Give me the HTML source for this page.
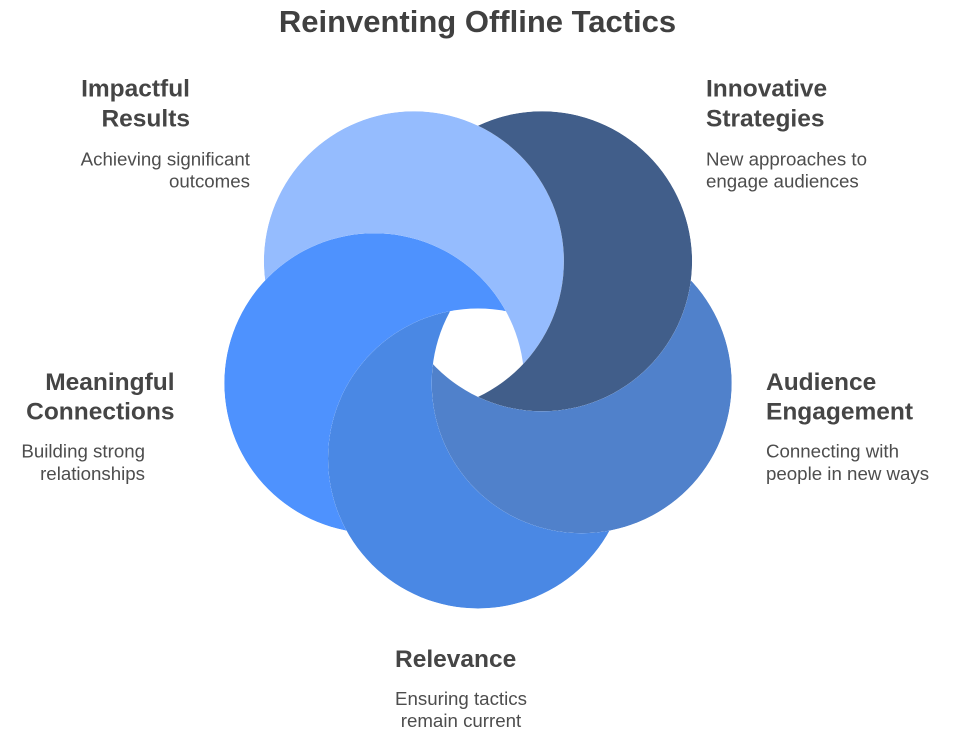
<!DOCTYPE html>
<html>
<head>
<meta charset="utf-8">
<style>
  html, body { margin: 0; padding: 0; background: #ffffff; }
  body { width: 955px; height: 741px; overflow: hidden; }
  svg { display: block; }
  .title { font-family: "Liberation Sans", Arial, sans-serif; font-weight: bold; font-size: 31px; fill: #404040; }
  .h { font-family: "Liberation Sans", Arial, sans-serif; font-weight: bold; font-size: 24.5px; fill: #454545; }
  .d { font-family: "Liberation Sans", Arial, sans-serif; font-size: 18.7px; fill: #4d4d4d; }
</style>
</head>
<body>
<svg width="955" height="741" viewBox="0 0 955 741" xmlns="http://www.w3.org/2000/svg">
  <defs>
    <!-- A: light (413.9,261.3)  B: navy (542.1,261.3)  C: right (581.7,383.2)  D: bottom (478,458.5)  E: left (374.3,383.2) -->
    <mask id="mA" maskUnits="userSpaceOnUse" x="0" y="0" width="955" height="741">
      <circle cx="413.9" cy="261.3" r="150" fill="#fff"/>
      <circle cx="374.3" cy="383.2" r="150" fill="#000"/>
    </mask>
    <mask id="mB" maskUnits="userSpaceOnUse" x="0" y="0" width="955" height="741">
      <circle cx="542.1" cy="261.3" r="150" fill="#fff"/>
      <circle cx="413.9" cy="261.3" r="150" fill="#000"/>
    </mask>
    <mask id="mC" maskUnits="userSpaceOnUse" x="0" y="0" width="955" height="741">
      <circle cx="581.7" cy="383.2" r="150" fill="#fff"/>
      <circle cx="542.1" cy="261.3" r="150" fill="#000"/>
    </mask>
    <mask id="mD" maskUnits="userSpaceOnUse" x="0" y="0" width="955" height="741">
      <circle cx="478" cy="458.5" r="150" fill="#fff"/>
      <circle cx="581.7" cy="383.2" r="150" fill="#000"/>
    </mask>
    <mask id="mE" maskUnits="userSpaceOnUse" x="0" y="0" width="955" height="741">
      <circle cx="374.3" cy="383.2" r="150" fill="#fff"/>
      <circle cx="478" cy="458.5" r="150" fill="#000"/>
    </mask>
  </defs>

  <text class="title" x="477.5" y="32" text-anchor="middle">Reinventing Offline Tactics</text>

  <circle cx="413.9" cy="261.3" r="150" fill="#95bcfe" mask="url(#mA)"/>
  <circle cx="542.1" cy="261.3" r="150" fill="#415e8a" mask="url(#mB)"/>
  <circle cx="581.7" cy="383.2" r="150" fill="#5081cb" mask="url(#mC)"/>
  <circle cx="478" cy="458.5" r="150" fill="#4a88e4" mask="url(#mD)"/>
  <circle cx="374.3" cy="383.2" r="150" fill="#4e92fe" mask="url(#mE)"/>

  <!-- Impactful Results -->
  <text class="h" x="190" y="96.5" text-anchor="end">Impactful</text>
  <text class="h" x="190" y="126.5" text-anchor="end">Results</text>
  <text class="d" x="250" y="165.5" text-anchor="end">Achieving significant</text>
  <text class="d" x="250" y="187.5" text-anchor="end">outcomes</text>

  <!-- Innovative Strategies -->
  <text class="h" x="706" y="96.5">Innovative</text>
  <text class="h" x="706" y="126.5">Strategies</text>
  <text class="d" x="706" y="165.5">New approaches to</text>
  <text class="d" x="706" y="187.5">engage audiences</text>

  <!-- Meaningful Connections -->
  <text class="h" x="174.5" y="390" text-anchor="end">Meaningful</text>
  <text class="h" x="174.5" y="419.5" text-anchor="end">Connections</text>
  <text class="d" x="145" y="457.5" text-anchor="end">Building strong</text>
  <text class="d" x="145" y="480" text-anchor="end">relationships</text>

  <!-- Audience Engagement -->
  <text class="h" x="766" y="390">Audience</text>
  <text class="h" x="766" y="419.5">Engagement</text>
  <text class="d" x="766" y="457.5">Connecting with</text>
  <text class="d" x="766" y="480">people in new ways</text>

  <!-- Relevance -->
  <text class="h" x="395" y="667">Relevance</text>
  <text class="d" x="461" y="705" text-anchor="middle">Ensuring tactics</text>
  <text class="d" x="461" y="727" text-anchor="middle">remain current</text>
</svg>
</body>
</html>
